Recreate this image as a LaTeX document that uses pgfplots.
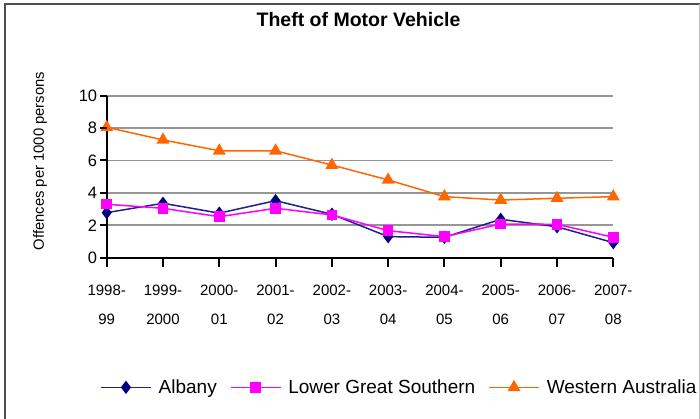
\documentclass[border=0pt]{standalone}
\usepackage{pgfplots}
\pgfplotsset{compat=1.18}
\usetikzlibrary{calc}
\usepackage{fontspec}
\setmainfont{Liberation Sans}
\definecolor{albany}{RGB}{0,0,128}
\definecolor{albanyline}{RGB}{30,30,140}
\definecolor{lgs}{RGB}{255,0,255}
\definecolor{wa}{RGB}{255,102,0}
\definecolor{gridgray}{RGB}{150,150,150}
\definecolor{framegray}{RGB}{80,80,80}
\begin{document}
\begin{tikzpicture}
\useasboundingbox (0,0) rectangle (700pt,-419pt);
\draw[line width=2pt, framegray] (5pt,-419pt) -- (5pt,-4pt) -- (700pt,-4pt);
\draw[line width=1pt, gray!50] (699pt,-4pt) -- (699pt,-419pt);
\node[font=\bfseries\fontsize{19.5}{22}\selectfont] at (358.5pt,-20pt) {Theft of Motor Vehicle};
\node[rotate=90, font=\fontsize{14.8}{17}\selectfont] at (40pt,-161pt) {Offences per 1000 persons};
\begin{axis}[
  at={(106.7pt,-257.7pt)}, anchor=south west,
  scale only axis, width=506.6pt, height=162pt,
  xmin=0, xmax=9, ymin=0, ymax=10,
  clip=false,
  axis x line*=bottom, axis y line*=left,
  axis line style={-, line width=1.6pt, black},
  xtick={0,...,9},
  xticklabels={{1998-\\99},{1999-\\2000},{2000-\\01},{2001-\\02},{2002-\\03},{2003-\\04},{2004-\\05},{2005-\\06},{2006-\\07},{2007-\\08}},
  ytick={0,2,...,10},
  major tick length=0pt,
  ymajorgrids,
  grid style={gridgray, line width=1.8pt},
  /pgf/number format/assume math mode=true,
  xticklabel style={font=\fontsize{15}{29}\selectfont, align=center, yshift=-24pt},
  yticklabel style={font=\fontsize{16.5}{20}\selectfont, xshift=-6pt},
  legend style={draw=none, fill=none, at={(-0.0132,-0.80)}, anchor=west,
    legend columns=-1, font=\fontsize{19}{22}\selectfont,
    nodes={inner sep=0pt},
    /tikz/every odd column/.append style={column sep=7pt},
    /tikz/every even column/.append style={column sep=13pt}, inner sep=0pt},
  legend image code/.code={\draw[mark repeat=2,mark phase=2] plot coordinates {(0pt,0pt) (25pt,0pt) (50pt,0pt)};},
]
\addplot[albanyline, line width=1.5pt, mark=diamond*, mark size=5.5pt, mark options={albany, fill=albany}]
  coordinates {(0,2.78) (1,3.36) (2,2.75) (3,3.52) (4,2.68) (5,1.30) (6,1.26) (7,2.37) (8,1.91) (9,0.93)};
\addlegendentry{Albany}
\addplot[lgs, line width=1.5pt, mark=square*, mark size=4.5pt, mark options={lgs, fill=lgs}]
  coordinates {(0,3.30) (1,3.05) (2,2.53) (3,3.05) (4,2.64) (5,1.67) (6,1.30) (7,2.08) (8,2.06) (9,1.26)};
\addlegendentry{Lower Great Southern}
\addplot[wa, line width=1.5pt, mark=triangle*, mark size=6pt, mark options={wa, fill=wa}]
  coordinates {(0,8.05) (1,7.27) (2,6.60) (3,6.60) (4,5.72) (5,4.80) (6,3.77) (7,3.56) (8,3.67) (9,3.77)};
\addlegendentry{Western Australia}
\coordinate (xa) at (axis cs:0,0);
\coordinate (xb) at (axis cs:9,0);
\coordinate (ya) at (axis cs:0,10);
\end{axis}
\foreach \i in {0,...,9} {
  \draw[black, line width=2pt] ($(xa)!\i/9!(xb)$) -- ++(0pt,-9pt);
}
\foreach \i in {0,...,5} {
  \draw[black, line width=2pt] ($(xa)!\i/5!(ya)$) -- ++(-7pt,0pt);
}
\end{tikzpicture}
\end{document}
